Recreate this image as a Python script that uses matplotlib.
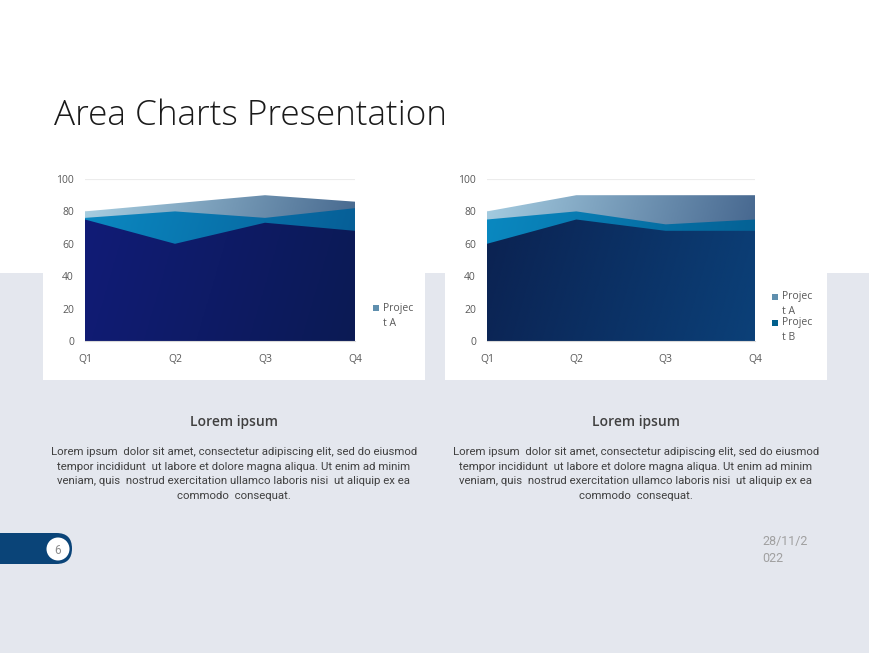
import numpy as np
import matplotlib.pyplot as plt
from matplotlib.colors import LinearSegmentedColormap
from matplotlib.patches import Rectangle, Circle, FancyBboxPatch

W, H = 870, 653

quarters = ['Q1', 'Q2', 'Q3', 'Q4']
y_ticks = [0, 20, 40, 60, 80, 100]

# left chart (back to front)
left_top = [80, 85, 90, 86]
left_mid = [76, 80, 76, 82]
left_front = [75, 60, 73, 68]

# right chart (back to front)
right_top = [80, 90, 90, 90]
right_mid = [75, 80, 72, 75]
right_front = [60, 75, 68, 68]

title = 'Area Charts Presentation'
heading = 'Lorem ipsum'
body = ('Lorem ipsum  dolor sit amet, consectetur adipiscing elit, sed do eiusmod\n'
        'tempor incididunt  ut labore et dolore magna aliqua. Ut enim ad minim\n'
        'veniam, quis  nostrud exercitation ullamco laboris nisi  ut aliquip ex ea\n'
        'commodo  consequat.')
page_no = '6'
date_txt = '28/11/2\n022'

BG = '#e4e7ee'
TXT = '#404040'
TICK = '#595959'
BODY_FONT = 'Roboto'


def px(x, y, w, h):
    # pixel box (top-left origin) -> figure fraction rect
    return [x / W, 1 - (y + h) / H, w / W, h / H]


def grad_area(ax, vals, c0, c1, z):
    x = np.arange(len(vals))
    poly = ax.fill_between(x, 0, vals, color='none', lw=0, zorder=z)
    cmap = LinearSegmentedColormap.from_list('g', [c0, c1])
    gx, gy = np.meshgrid(np.linspace(0, 1, 200), np.linspace(0, 1, 100))
    grad = 0.85 * gx + 0.15 * (1 - gy)
    im = ax.imshow(grad, extent=[0, 3, 0, 100], origin='lower', aspect='auto',
                   cmap=cmap, zorder=z, interpolation='bilinear')
    im.set_clip_path(poly.get_paths()[0], transform=ax.transData)


def area_chart(rect, series, colors):
    ax = fig.add_axes(rect)
    ax.set_facecolor('none')
    for z, (vals, (c0, c1)) in enumerate(zip(series, colors)):
        grad_area(ax, vals, c0, c1, 2 + z)
    ax.set_xlim(0, 3)
    ax.set_ylim(0, 100)
    ax.set_xticks(range(4))
    ax.set_xticklabels(quarters)
    ax.set_yticks(y_ticks)
    ax.grid(axis='y', color='#ececec', lw=0.8, zorder=0)
    ax.set_axisbelow(True)
    for s in ['top', 'right', 'left']:
        ax.spines[s].set_visible(False)
    ax.spines['bottom'].set_color('#d9d9d9')
    ax.spines['bottom'].set_zorder(10)
    ax.tick_params(axis='both', length=0, labelsize=7.5, colors=TICK)
    ax.tick_params(axis='x', pad=9)
    ax.tick_params(axis='y', pad=8)
    for lbl in ax.get_xticklabels() + ax.get_yticklabels():
        lbl.set_fontfamily('Open Sans')
    return ax


def fit_width(t, target):
    # shrink/grow a text so its widest line spans `target` pixels
    r = fig.canvas.get_renderer()
    w = t.get_window_extent(r).width
    t.set_fontsize(t.get_fontsize() * target / w)


fig = plt.figure(figsize=(W / 100, H / 100), dpi=100)
fig.patch.set_facecolor('white')
bg = fig.add_axes([0, 0, 1, 1])
bg.set_xlim(0, W)
bg.set_ylim(H, 0)
bg.axis('off')

# slide background and white chart cards
bg.add_patch(Rectangle((0, 273), W, H - 273, color=BG, lw=0))
bg.add_patch(Rectangle((43, 160), 382, 220, color='white', lw=0))
bg.add_patch(Rectangle((445, 160), 382, 220, color='white', lw=0))

t = bg.text(54, 116, title, fontsize=25, family='Open Sans', fontweight='light',
            color='#1a1a1a', va='center', ha='left')
fit_width(t, 394)

# charts
area_chart(px(85, 179, 270, 162),
           [left_top, left_mid, left_front],
           [('#aad1e3', '#3c5d85'), ('#0b8ac3', '#065a92'), ('#111c78', '#0b1a54')])
area_chart(px(487, 179, 268, 162),
           [right_top, right_mid, right_front],
           [('#a6cee2', '#3c5c86'), ('#0a8ac2', '#045d90'), ('#0b2150', '#0b4078')])

# legends (clipped labels as in the slide)
leg_kw = dict(fontsize=7.5, family='Open Sans', color=TICK, va='center', ha='left')
bg.add_patch(Rectangle((373, 305), 6, 6, color='#5f8fae', lw=0))
bg.text(383, 309, 'Projec', **leg_kw)
bg.text(383, 324, 't A', **leg_kw)
bg.add_patch(Rectangle((772, 294), 6, 6, color='#5f8fae', lw=0))
bg.text(782, 297, 'Projec', **leg_kw)
bg.text(782, 312, 't A', **leg_kw)
bg.add_patch(Rectangle((772, 320), 6, 6, color='#005f8c', lw=0))
bg.text(782, 323, 'Projec', **leg_kw)
bg.text(782, 338, 't B', **leg_kw)

# text blocks
for cx in (234, 636):
    bg.text(cx, 422, heading, fontsize=10, family='Open Sans', fontweight='semibold',
            color=TXT, ha='center', va='center')
    t = bg.text(cx, 474, body, fontsize=8, family=BODY_FONT, color=TXT,
                ha='center', va='center', linespacing=1.6)
    fit_width(t, 368)

# page badge
bg.add_patch(FancyBboxPatch((-20, 533), 92, 31,
                            boxstyle='round,pad=0,rounding_size=15.5',
                            color='#0a4478', lw=0))
bg.add_patch(Circle((58, 549), 11.5, color='white', lw=0))
bg.text(58, 550, page_no, fontsize=8.5, family=BODY_FONT, color='#8c8c8c',
        ha='center', va='center')

bg.text(762, 550, date_txt, fontsize=9, family=BODY_FONT, color='#a0a0a0',
        ha='left', va='center', linespacing=1.45)

fig.savefig('out.png', dpi=100)
